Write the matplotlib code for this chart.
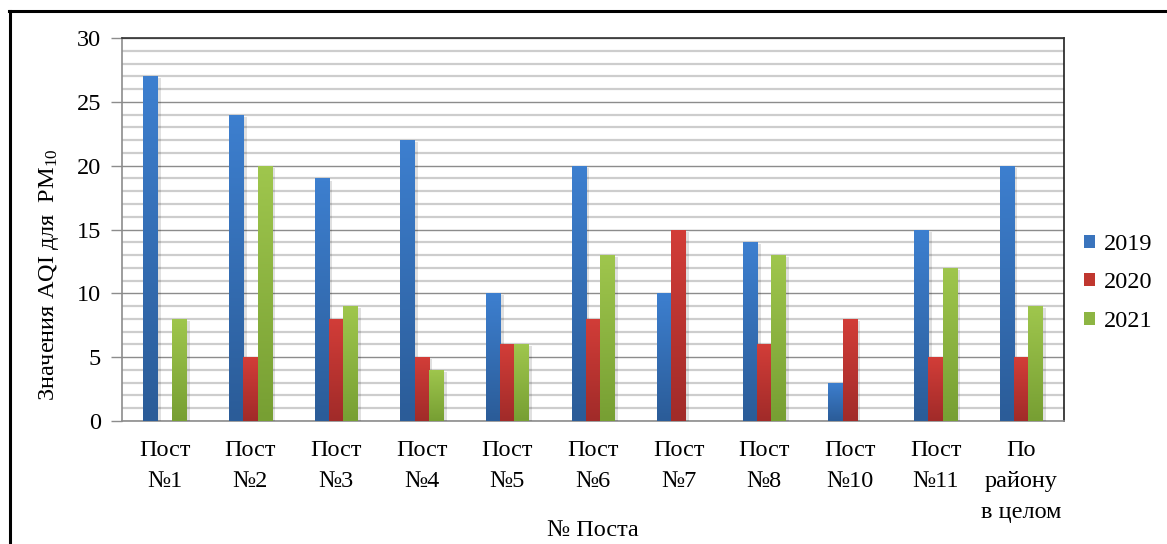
import numpy as np
import matplotlib
matplotlib.use("Agg")
import matplotlib.pyplot as plt
from matplotlib.colors import LinearSegmentedColormap
from matplotlib.lines import Line2D
from matplotlib.patches import Patch
import matplotlib.patheffects as pe

plt.rcParams["font.family"] = ["Liberation Serif", "DejaVu Serif"]
plt.rcParams["mathtext.fontset"] = "custom"
plt.rcParams["mathtext.rm"] = "Liberation Serif"
plt.rcParams["mathtext.it"] = "Liberation Serif:italic"

FS = 17.5

categories = ["Пост\n№1", "Пост\n№2", "Пост\n№3", "Пост\n№4", "Пост\n№5", "Пост\n№6",
              "Пост\n№7", "Пост\n№8", "Пост\n№10", "Пост\n№11", "По\nрайону\nв целом"]
years = ["2019", "2020", "2021"]
aqi_2019 = [27, 24, 19, 22, 10, 20, 10, 14, 3, 15, 20]
aqi_2020 = [0, 5, 8, 5, 6, 8, 15, 6, 8, 5, 5]
aqi_2021 = [8, 20, 9, 4, 6, 13, 0, 13, 0, 12, 9]
series = [aqi_2019, aqi_2020, aqi_2021]

# (bottom colour, top colour, legend colour) for each year
palettes = [("#2b5c98", "#3d7fcf", "#3a74bd"),
            ("#a12b29", "#d23d38", "#c0372f"),
            ("#779f33", "#9fc64d", "#8db543")]

fig = plt.figure(figsize=(11.67, 5.44), dpi=100)
ax = fig.add_axes([0.1045, 0.2261, 0.8072, 0.7040])

x = np.arange(len(categories))
width = 0.167
offsets = [-width, 0, width]

grad = np.linspace(0, 1, 64).reshape(-1, 1)
for vals, off, (c0, c1, _) in zip(series, offsets, palettes):
    cmap = LinearSegmentedColormap.from_list("g", [c0, c1])
    bars = ax.bar(x + off, vals, width, color=c1, linewidth=0, zorder=3,
                  path_effects=[pe.SimplePatchShadow(offset=(2.5, -1.5), alpha=0.12,
                                                     shadow_rgbFace="#000000"),
                                pe.Normal()])
    for b in bars:
        h = b.get_height()
        if h <= 0:
            continue
        x0 = b.get_x()
        im = ax.imshow(grad, cmap=cmap, origin="lower", aspect="auto",
                       extent=(x0, x0 + b.get_width(), 0, h), zorder=3.5,
                       interpolation="bilinear")
        im.set_clip_path(b)

ax.set_xlim(-0.5, len(categories) - 0.5)
ax.set_ylim(0, 30)
ax.set_yticks(np.arange(0, 31, 5))
ax.set_yticks(np.arange(0, 31, 1), minor=True)
ax.grid(axis="y", which="minor", color="#cdcdcd", linewidth=1.6, zorder=0)
ax.grid(axis="y", which="major", color="#8c8c8c", linewidth=1.0, zorder=1)
ax.set_axisbelow(True)

ax.set_xticks(x)
ax.set_xticklabels(categories, fontsize=FS, linespacing=1.6)
ax.tick_params(axis="x", length=0, pad=14)
ax.tick_params(axis="y", which="major", length=8, width=1, color="#8c8c8c",
               labelsize=FS, pad=7)
ax.tick_params(axis="y", which="minor", length=0)

ax.spines["left"].set_color("#8c8c8c")
ax.spines["bottom"].set_color("#8c8c8c")
ax.spines["top"].set_color("#303030")
ax.spines["right"].set_color("#202020")
for s in ax.spines.values():
    s.set_linewidth(1.2)

ax.set_ylabel("Значения AQI для  PM$_{10}$", fontsize=FS)
ax.yaxis.set_label_coords(-0.065, 0.381)
ax.set_xlabel("№ Поста", fontsize=FS)
ax.xaxis.set_label_coords(0.5, -0.258)

handles = [Patch(facecolor=p[2], edgecolor="none") for p in palettes]
fig.legend(handles, years, loc="center left", bbox_to_anchor=(0.929, 0.48),
           frameon=False, fontsize=FS, handlelength=0.45, handleheight=0.45,
           handletextpad=0.35, labelspacing=0.72, borderaxespad=0, borderpad=0)

# frame around the figure
fig.add_artist(Line2D([9 / 1167, 1.0], [1 - 11 / 544, 1 - 11 / 544],
                      transform=fig.transFigure, color="black", linewidth=2.2))
fig.add_artist(Line2D([10 / 1167, 10 / 1167], [0.0, 1 - 11 / 544],
                      transform=fig.transFigure, color="black", linewidth=2.2))

fig.savefig("out.png", dpi=100)
